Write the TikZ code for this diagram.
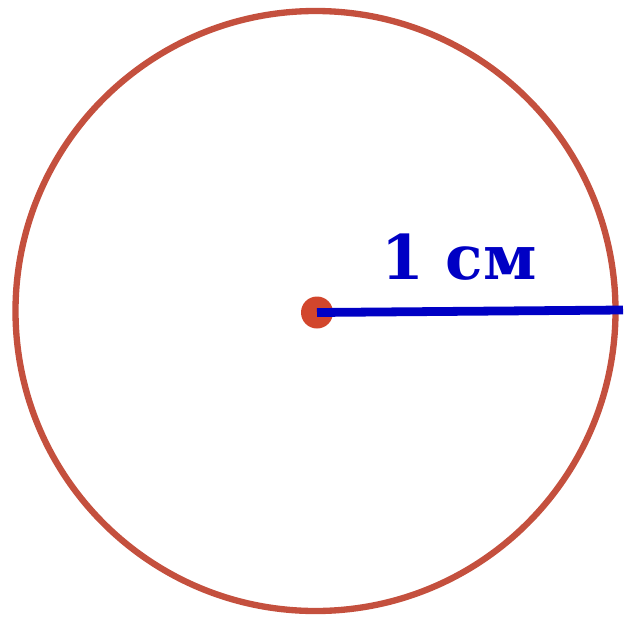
\documentclass[tikz,border=0pt]{standalone}
\usepackage{fontspec}
\setmainfont{DejaVu Serif}
\usetikzlibrary{positioning}
\definecolor{rimred}{HTML}{C4503E}
\definecolor{dotred}{HTML}{D2462C}
\definecolor{radblue}{HTML}{0000C4}
\tikzset{
rimline/.style={draw=rimred,line width=3.6pt},
dot/.style={circle,fill=dotred,inner sep=0pt,minimum size=.64cm},
radius line/.style={draw=radblue,line width=5pt},
lbl/.style={font=\bfseries\fontsize{35}{38}\selectfont,text=radblue,anchor=base,inner sep=0pt}}

\begin{document}
\begin{tikzpicture}
\useasboundingbox (0,0) rectangle (12.5,12.4);
\draw[rimline] (6.31,6.18) circle (6.0);
\node[dot] (ctr) at (6.34,6.15) {};
\coordinate (rim) at (12.46,6.20);
\node[lbl] (len) at (9.18,6.82) {1 см};
\draw[radius line] (ctr.center)--(rim);
\end{tikzpicture}
\end{document}
